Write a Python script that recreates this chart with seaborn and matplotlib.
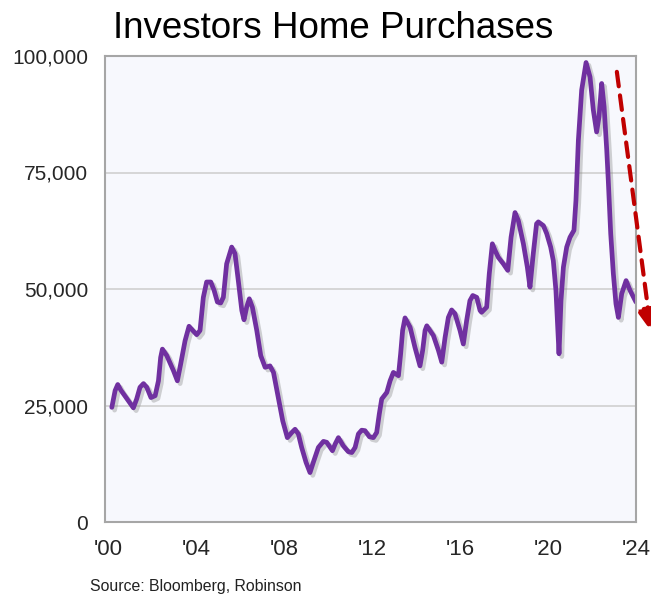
import matplotlib
matplotlib.use("Agg")
import matplotlib.pyplot as plt
import matplotlib.patheffects as pe
import seaborn as sns
import pandas as pd

# ---- data ----
years = [
    2000.17, 2000.32, 2000.44, 2000.58, 2000.70, 2000.92, 2001.15, 2001.30, 2001.45, 2001.61,
    2001.76, 2001.95, 2002.14, 2002.29, 2002.39, 2002.47, 2002.67, 2002.97, 2003.15, 2003.30,
    2003.50, 2003.68, 2003.85, 2004.03, 2004.18, 2004.33, 2004.48, 2004.67, 2004.82, 2004.97,
    2005.12, 2005.24, 2005.39, 2005.62, 2005.77, 2005.92, 2006.08, 2006.18, 2006.30, 2006.42,
    2006.56, 2006.76, 2006.94, 2007.14, 2007.36, 2007.52, 2007.74, 2007.94, 2008.15, 2008.35,
    2008.50, 2008.65, 2008.80, 2009.00, 2009.18, 2009.33, 2009.56, 2009.79, 2009.94, 2010.20,
    2010.32, 2010.47, 2010.70, 2010.92, 2011.08, 2011.23, 2011.38, 2011.53, 2011.68, 2011.88,
    2012.06, 2012.21, 2012.33, 2012.44, 2012.67, 2012.82, 2012.97, 2013.20, 2013.30, 2013.39,
    2013.50, 2013.73, 2013.95, 2014.18, 2014.30, 2014.41, 2014.49, 2014.79, 2015.02, 2015.17,
    2015.32, 2015.47, 2015.62, 2015.77, 2016.00, 2016.15, 2016.30, 2016.45, 2016.58, 2016.76,
    2016.91, 2016.98, 2017.21, 2017.33, 2017.47, 2017.59, 2017.74, 2017.97, 2018.17, 2018.32,
    2018.50, 2018.65, 2018.88, 2019.06, 2019.18, 2019.33, 2019.48, 2019.56, 2019.79, 2019.94,
    2020.12, 2020.24, 2020.36, 2020.50, 2020.59, 2020.70, 2020.85, 2021.00, 2021.18, 2021.27,
    2021.38, 2021.53, 2021.73, 2021.91, 2022.06, 2022.21, 2022.32, 2022.44, 2022.55, 2022.67,
    2022.74, 2022.85, 2022.97, 2023.09, 2023.20, 2023.35, 2023.55, 2023.73, 2024.00,
]
purchases = [
    24600, 28200, 29500, 28300, 27500, 26000, 24500, 26400, 28900, 29700,
    28900, 26700, 27100, 30300, 35300, 37100, 35700, 32500, 30300, 33900,
    38900, 42000, 41100, 40200, 41100, 48200, 51500, 51500, 49700, 47200,
    47000, 48200, 55400, 59000, 57600, 51800, 45400, 43400, 46100, 47900,
    46100, 41100, 35700, 33200, 33500, 32100, 26700, 21700, 18100, 19200,
    19900, 18900, 16000, 12800, 10600, 12800, 16000, 17300, 17100, 15300,
    16700, 18100, 16300, 15100, 14900, 16000, 18900, 19700, 19600, 18300,
    18100, 19200, 23200, 26400, 27800, 30300, 32100, 31400, 36100, 41100,
    43800, 41800, 37500, 33500, 36800, 41100, 42100, 40000, 36800, 34300,
    39600, 43900, 45500, 44700, 41100, 38200, 43200, 47500, 48600, 48200,
    45400, 45000, 46100, 53300, 59700, 58300, 56800, 55400, 54000, 61100,
    66400, 64700, 59700, 54700, 50400, 57600, 64000, 64400, 63600, 61900,
    59000, 56100, 49700, 36100, 47500, 54700, 59000, 61100, 62600, 69000,
    81900, 92700, 98600, 95500, 88400, 83700, 87000, 94100, 89100, 79800,
    73300, 61900, 53300, 46800, 43900, 49000, 51800, 49700, 47200,
]

tick_years = [2000, 2004, 2008, 2012, 2016, 2020, 2024]
tick_labels = ["'00", "'04", "'08", "'12", "'16", "'20", "'24"]
y_ticks = [0, 25000, 50000, 75000, 100000]
y_labels = ["0", "25,000", "50,000", "75,000", "100,000"]

title = "Investors Home Purchases"
source = "Source: Bloomberg, Robinson"

# trend arrow (start -> tip) in data units
arrow_start = (2023.13, 96600)
arrow_end = (2024.68, 41000)

df = pd.DataFrame({"year": years, "purchases": purchases})

sns.set_theme(style="white")
plt.rcParams["font.family"] = ["Liberation Sans", "DejaVu Sans"]

fig = plt.figure(figsize=(6.51, 5.94), dpi=100)
ax = fig.add_axes([105 / 651, 1 - 522 / 594, (636 - 105) / 651, (522 - 56) / 594])
ax.set_facecolor("#F7F8FD")

sns.lineplot(data=df, x="year", y="purchases", ax=ax, color="#7030A0",
             linewidth=3.4, solid_joinstyle="round", solid_capstyle="round",
             path_effects=[pe.SimpleLineShadow(offset=(2, -2), shadow_color="gray", alpha=0.35),
                           pe.Normal()])

ax.set_xlim(1999.86, 2024.0)
ax.set_ylim(0, 100000)
ax.set_xticks(tick_years)
ax.set_xticklabels(tick_labels)
ax.set_yticks(y_ticks)
ax.set_yticklabels(y_labels)
ax.tick_params(axis="x", labelsize=16, pad=12, length=0)
ax.tick_params(axis="y", labelsize=15, pad=12, length=0)
ax.set_xlabel("")
ax.set_ylabel("")

for y in y_ticks[1:-1]:
    ax.axhline(y, color="#D3D3D3", linewidth=1.3, zorder=0)

for s in ax.spines.values():
    s.set_visible(True)
    s.set_color("#A6A6A6")
    s.set_linewidth(1.5)

ax.annotate("", xy=arrow_end, xytext=arrow_start,
            arrowprops=dict(arrowstyle="-|>,head_length=1.1,head_width=0.6",
                            color="#C00000", lw=3, linestyle=(0, (3.5, 2.2)),
                            shrinkA=0, shrinkB=0),
            annotation_clip=False)

fig.text(0.5115, 1 - 38 / 594, title, ha="center", va="baseline", fontsize=26.5, color="black")
fig.text(90 / 651, 1 - 587 / 594, source, ha="left", va="center", fontsize=11.4, color="#222222")

fig.savefig("out.png", dpi=100)
